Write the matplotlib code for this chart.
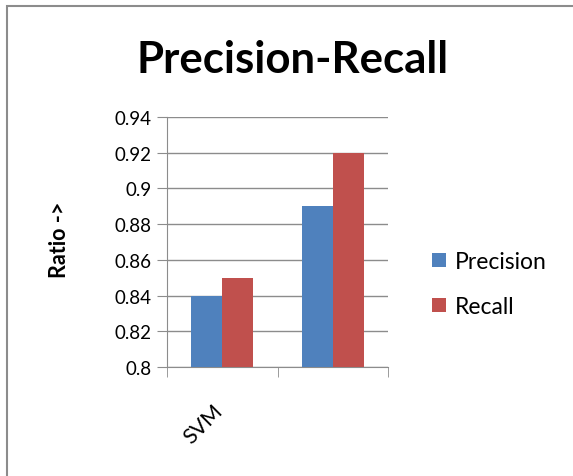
import numpy as np
import matplotlib.pyplot as plt
import matplotlib.transforms as mtransforms
from matplotlib.patches import Rectangle

categories = ["SVM", ""]
series_names = ["Precision", "Recall"]
precision = [0.84, 0.89]
recall = [0.85, 0.92]
yticks = [0.8, 0.82, 0.84, 0.86, 0.88, 0.9, 0.92, 0.94]
colors = ["#4F81BD", "#C0504D"]

plt.rcParams['font.family'] = ['Lato', 'DejaVu Sans']

fig = plt.figure(figsize=(5.73, 4.77), dpi=100)
fig.patch.set_facecolor('white')

# outer chart frame (cropped at right and bottom)
fig.patches.append(Rectangle((7 / 573, -0.1), 1.2, 1 - 7 / 477 + 0.1,
                             transform=fig.transFigure, fill=False,
                             edgecolor='#8c8c8c', linewidth=1.5))

ax = fig.add_axes([167 / 573, 1 - 368 / 477, 221 / 573, 250 / 477])
x = np.arange(len(categories))
w = 0.28
ax.bar(x - w / 2, precision, w, color=colors[0], label=series_names[0], zorder=3)
ax.bar(x + w / 2, recall, w, color=colors[1], label=series_names[1], zorder=3)

ax.set_xlim(-0.5, 1.5)
ax.set_ylim(0.8, 0.94)
ax.set_yticks(yticks)
ax.set_yticklabels([f"{v:g}" for v in yticks], fontsize=13.5)
ax.yaxis.grid(True, color='#8c8c8c', linewidth=1, zorder=0)
ax.set_axisbelow(True)

ax.set_xticks([-0.5, 0.5, 1.5], minor=True)
ax.tick_params(axis='x', which='major', length=0, pad=24)
ax.tick_params(axis='x', which='minor', length=7, color='#8c8c8c')
ax.tick_params(axis='y', length=7, color='#8c8c8c', pad=4)

ax.set_xticks(x)
ax.set_xticklabels(categories, rotation=45, ha='right', va='top',
                   rotation_mode='anchor', fontsize=15.5)
shift = mtransforms.ScaledTranslation(-10 / 100, 0, fig.dpi_scale_trans)
for lbl in ax.get_xticklabels():
    lbl.set_transform(lbl.get_transform() + shift)

for s in ['top', 'right']:
    ax.spines[s].set_visible(False)
for s in ['left', 'bottom']:
    ax.spines[s].set_color('#8c8c8c')

fig.text(59 / 573, 1 - 240 / 477, "Ratio ->", fontsize=15.5, fontweight='bold',
         rotation=90, ha='center', va='center')

fig.text(293 / 573, 1 - 60 / 477, "Precision-Recall", fontsize=31.5,
         fontweight='bold', ha='center', va='center')

ax.legend(loc='center left', bbox_to_anchor=(432 / 573, 1 - 285 / 477),
          bbox_transform=fig.transFigure, frameon=False, borderpad=0,
          borderaxespad=0, fontsize=16.5, handlelength=0.6, handleheight=0.6,
          handletextpad=0.4, labelspacing=1.05)

fig.savefig("out.png", dpi=100)
